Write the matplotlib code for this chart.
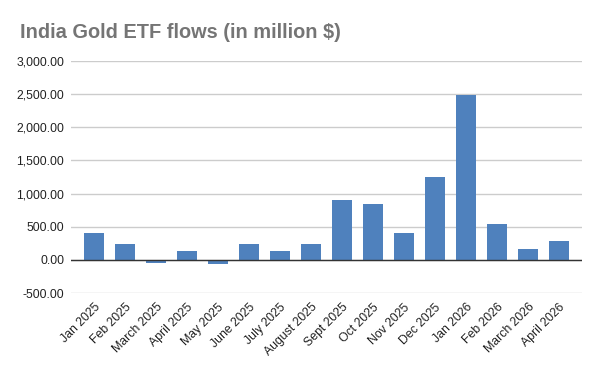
import matplotlib
matplotlib.use("Agg")
from matplotlib import pyplot as plt
from matplotlib.ticker import FuncFormatter

months = ['Jan 2025', 'Feb 2025', 'March 2025', 'April 2025', 'May 2025',
          'June 2025', 'July 2025', 'August 2025', 'Sept 2025', 'Oct 2025',
          'Nov 2025', 'Dec 2025', 'Jan 2026', 'Feb 2026', 'March 2026',
          'April 2026']
flows = [398, 232, -45, 141, -65, 232, 127, 232, 898, 838,
         398, 1247, 2485, 535, 171, 292]
yticks = [-500, 0, 500, 1000, 1500, 2000, 2500, 3000]

plt.rcParams['font.family'] = ['Liberation Sans', 'DejaVu Sans']

fig = plt.figure(figsize=(6, 3.71), dpi=100)
ax = fig.add_axes([71 / 600, 1 - 293 / 371, 511 / 600, 232 / 371])

x = list(range(len(months)))
ax.bar(x, flows, width=0.64, color='#4f81bd', zorder=3)

ax.set_ylim(-500, 3000)
ax.set_xlim(-0.74, len(months) - 0.26)
ax.set_yticks(yticks)
ax.yaxis.set_major_formatter(FuncFormatter(lambda v, p: f'{v:,.2f}'))
ax.grid(axis='y', color='#cccccc', linewidth=1, zorder=0)
ax.axhline(0, color='#333333', linewidth=1, zorder=4)

ax.set_xticks(x)
ax.set_xticklabels(months, rotation=45, ha='right', rotation_mode='anchor')
ax.tick_params(axis='both', length=0, labelsize=8.8, colors='#222222')
ax.tick_params(axis='y', pad=5)
ax.tick_params(axis='x', pad=6)
for s in ax.spines.values():
    s.set_visible(False)

fig.text(20 / 600, 1 - 32.5 / 371, 'India Gold ETF flows (in million $)',
         fontsize=14.4, fontweight='bold', color='#757575', va='center')

fig.savefig('out.png', dpi=100)
